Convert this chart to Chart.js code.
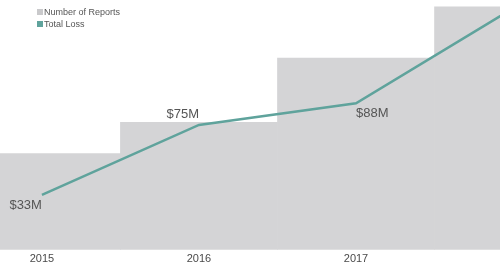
<!DOCTYPE html>
<html>
<head>
<meta charset="utf-8">
<script src="https://cdn.jsdelivr.net/npm/chart.js@4/dist/chart.umd.min.js"></script>
<style>
  html, body { margin: 0; padding: 0; background: #fff; overflow: hidden; }
  #wrap { width: 500px; height: 265px; position: relative; }
</style>
</head>
<body>
<div id="wrap"><canvas id="canvas"></canvas></div>
<script>
const years = ["2015", "2016", "2017", "2018"];
const reports = [1540, 2040, 3070, 3890];
const losses = [33, 75, 88, 145];
const lossLabels = ["$33M", "$75M", "$88M", ""];

const barColor = "#d4d4d6";
const lineColor = "#5fa39c";
const textColor = "#555";
const fontFamily = "'Liberation Sans', Arial, sans-serif";

// where each value label sits relative to its point
const labelPlace = [
  { align: "right", dy: 11 },
  { align: "right", dy: -10 },
  { align: "left", dy: 10 },
  { align: "left", dy: 10 }
];

const valueLabels = {
  id: "valueLabels",
  afterDatasetsDraw: (chart) => {
    const ctx = chart.ctx;
    const meta = chart.getDatasetMeta(1);
    ctx.save();
    ctx.font = "13px " + fontFamily;
    ctx.fillStyle = textColor;
    ctx.textBaseline = "middle";
    meta.data.forEach((pt, i) => {
      if (!lossLabels[i]) return;
      const p = labelPlace[i];
      ctx.textAlign = p.align;
      ctx.fillText(lossLabels[i], pt.x, pt.y + p.dy);
    });
    ctx.restore();
  }
};

// small legend in the top left corner
const cornerLegend = {
  id: "cornerLegend",
  afterDraw: (chart) => {
    const ctx = chart.ctx;
    const swatches = ["#c9c9cb", lineColor];
    ctx.save();
    ctx.font = "9px " + fontFamily;
    ctx.textBaseline = "middle";
    ctx.textAlign = "left";
    chart.data.datasets.forEach((d, i) => {
      const y = 9 + i * 12;
      ctx.fillStyle = swatches[i];
      ctx.fillRect(37, y, 6, 6);
      ctx.fillStyle = textColor;
      ctx.fillText(d.label, 44, y + 3.5);
    });
    ctx.restore();
  }
};

const ctx = document.getElementById("canvas").getContext("2d");

new Chart(ctx, {
  data: {
    datasets: [
      {
        type: "bar",
        label: "Number of Reports",
        data: reports.map((v, i) => ({ x: i, y: v })),
        backgroundColor: barColor,
        borderWidth: 0,
        barPercentage: 1,
        categoryPercentage: 1,
        yAxisID: "y",
        order: 2
      },
      {
        type: "line",
        label: "Total Loss",
        data: losses.map((v, i) => ({ x: i, y: v })),
        borderColor: lineColor,
        backgroundColor: lineColor,
        borderWidth: 2.5,
        pointRadius: 0,
        tension: 0,
        yAxisID: "y1",
        order: 1
      }
    ]
  },
  options: {
    responsive: true,
    maintainAspectRatio: false,
    animation: false,
    layout: { padding: { left: 0, right: 0, top: 0, bottom: -4 } },
    scales: {
      x: {
        type: "linear",
        min: -0.267,
        max: 2.917,
        offset: false,
        grid: { display: false, drawTicks: false },
        border: { display: false },
        ticks: {
          stepSize: 1,
          includeBounds: false,
          color: "#4a4a4a",
          padding: 3,
          maxRotation: 0,
          font: { family: fontFamily, size: 11 },
          callback: (v) => Number.isInteger(v) ? years[v] : ""
        }
      },
      y: { display: false, min: 0, max: 4000 },
      y1: { display: false, min: 0, max: 150 }
    },
    plugins: {
      tooltip: { enabled: false },
      legend: { display: false }
    }
  },
  plugins: [valueLabels, cornerLegend]
});
</script>
</body>
</html>
